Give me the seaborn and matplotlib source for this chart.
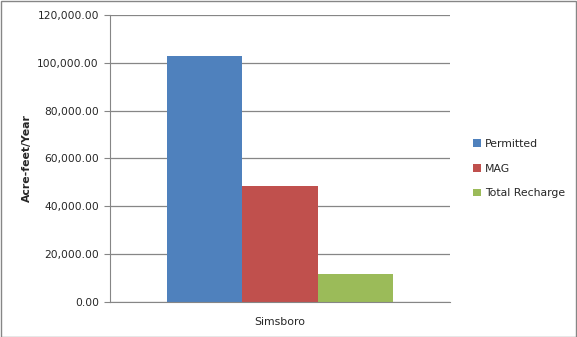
import matplotlib
matplotlib.use("Agg")
import matplotlib.pyplot as plt
import seaborn as sns
import pandas as pd
from matplotlib.ticker import FuncFormatter
from matplotlib.patches import Rectangle

categories = ["Simsboro"]
series = ["Permitted", "MAG", "Total Recharge"]
values = [103000, 48500, 11800]
colors = ["#4F81BD", "#C0504D", "#9BBB59"]

df = pd.DataFrame({"cat": categories * len(series), "series": series, "value": values})

sns.set_style("white")
plt.rcParams["font.family"] = ["DejaVu Sans"]

fig = plt.figure(figsize=(5.77, 3.37), dpi=100)
ax = fig.add_axes([110/577, 1 - 302/337, 340/577, 287/337])

sns.barplot(data=df, x="cat", y="value", hue="series", palette=colors,
            width=0.665, saturation=1, ax=ax, legend=True, linewidth=0,
            edgecolor="none")

ax.set_ylim(0, 120000)
ax.set_yticks(range(0, 120001, 20000))
ax.yaxis.set_major_formatter(FuncFormatter(lambda v, p: f"{v:,.2f}"))
ax.grid(axis="y", color="#868686", linewidth=0.9)
ax.set_axisbelow(True)
for s in ["top", "right"]:
    ax.spines[s].set_visible(False)
ax.spines["left"].set_color("#868686")
ax.spines["bottom"].set_color("#868686")
ax.tick_params(axis="y", length=4, color="#868686", labelsize=7.7, pad=4, left=True)
ax.tick_params(axis="x", length=0, labelsize=7.8, pad=11)
ax.set_xlabel("")
ax.set_ylabel("Acre-feet/Year", fontsize=7.8, fontweight="bold", labelpad=4)

leg = ax.legend(loc="center left", bbox_to_anchor=(1.04, 0.465), frameon=False,
                fontsize=7.8, handlelength=0.7, handleheight=0.7, handletextpad=0.4,
                labelspacing=1.35)

fig.patches.append(Rectangle((0.5/577, 0.5/337), 1 - 1.5/577, 1 - 1.5/337,
                             transform=fig.transFigure, fill=False,
                             edgecolor="#868686", linewidth=1))
fig.savefig("out.png", dpi=100)
